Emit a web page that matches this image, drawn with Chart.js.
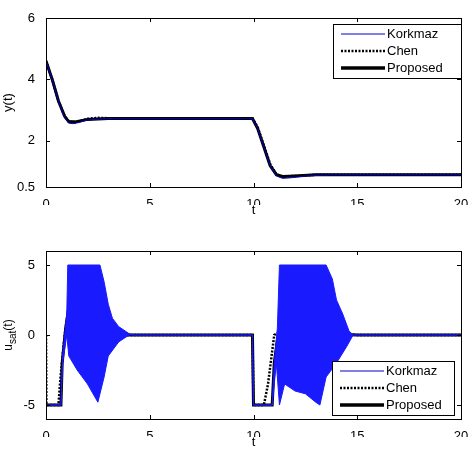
<!DOCTYPE html>
<html><head><meta charset="utf-8">
<script src="https://cdn.jsdelivr.net/npm/chart.js@4"></script>
<style>body{margin:0;background:#fff;width:473px;height:457px;position:relative;overflow:hidden}
canvas{position:absolute;left:0}</style></head><body>
<div style="position:absolute;left:0;top:0;width:473px;height:228px"><canvas id="c1"></canvas></div>
<div style="position:absolute;left:0;top:228px;width:473px;height:229px"><canvas id="c2"></canvas></div>
<script>
const xTicks=[0,5,10,15,20];
const yTicksTop=[0.5,2,4,6];
const yTicksBot=[-5,0,5];
// top plot y(t)
const yProposed=[[0,4.6],[0.3,4.0],[0.6,3.3],[0.9,2.8],[1.1,2.62],[1.4,2.62],[2,2.7],[3,2.73],[9.95,2.73],[10.2,2.4],[10.5,1.8],[10.8,1.2],[11.1,0.9],[11.4,0.84],[12,0.86],[13,0.9],[20,0.9]];
const yKorkmaz=[[0,4.6],[0.3,4.0],[0.6,3.3],[0.9,2.75],[1.1,2.58],[1.3,2.56],[1.6,2.6],[2,2.68],[3,2.73],[9.95,2.73],[10.2,2.4],[10.5,1.8],[10.8,1.2],[11.1,0.86],[11.4,0.78],[11.8,0.8],[12.5,0.86],[14,0.9],[20,0.9]];
const yChen=[[0,4.6],[0.3,4.0],[0.6,3.3],[0.9,2.8],[1.1,2.64],[1.4,2.6],[2,2.72],[2.5,2.75],[3,2.74],[9.95,2.73],[10.2,2.45],[10.5,1.85],[10.8,1.25],[11.1,0.92],[11.4,0.84],[12,0.86],[13,0.9],[20,0.9]];
// bottom plot u_sat(t)
const uProposed=[[0,-5],[0.72,-5],[0.78,-2],[0.95,0.5],[1.1,2.0],[1.3,1.7],[1.6,1.3],[2,0.7],[2.5,0.2],[3,0.05],[3.5,0],[9.95,0],[10.0,-5],[10.9,-5],[11.0,-2],[11.2,0.2],[11.7,0.4],[12.5,0.3],[13.5,0.1],[15,0],[20,0]];
const uChen=[[0,0],[0.02,-5],[0.6,-5],[0.7,-3],[0.9,0],[1.1,2.0],[1.5,2.0],[1.8,1.7],[2.2,0.8],[2.6,0.1],[3,-0.1],[3.5,0],[9.95,0],[10.0,-5],[10.5,-5],[10.7,-3.5],[11.0,0],[11.3,0.3],[12,0.35],[13,0.1],[15,0],[20,0]];
const uKorkmazUpper=[[0,-5],[0.72,-5],[0.8,-1.5],[1.0,1.5],[1.05,5],[2.6,5],[2.8,3.8],[3.0,2.2],[3.2,1.2],[3.5,0.6],[4.0,0.1],[4.2,0],[9.95,0],[10.0,-5],[10.9,-5],[11.0,-2],[11.15,0.5],[11.25,5],[13.5,5],[13.8,4],[14.0,2.5],[14.3,1.5],[14.6,0.3],[14.8,0],[20,0]];
const uKorkmazLower=[[0,-5],[0.72,-5],[0.8,-2],[1.0,0],[1.1,-1.5],[1.5,-2.5],[2.0,-3.5],[2.5,-4.8],[2.8,-3],[3.0,-1.5],[3.5,-0.5],[4.0,0],[9.95,0],[10.0,-5],[10.9,-5],[11.1,-2],[11.25,-5],[11.5,-3.5],[12,-4],[12.5,-4.2],[13,-4.8],[13.2,-5],[13.5,-3],[14,-2],[14.5,-0.8],[14.8,0],[20,0]];

const pts=a=>a.map(p=>({x:p[0],y:p[1]}));
const FONT='"Liberation Sans", Arial, sans-serif';
function deco(legendBox,ylabel,sub){
 return {id:'deco',afterDraw(ch){
  const c=ch.ctx,a=ch.chartArea;c.save();
  c.strokeStyle='#000';c.lineWidth=1;c.strokeRect(a.left+0.5,a.top+0.5,a.right-a.left,a.bottom-a.top);
  const xs=ch.scales.x,ys=ch.scales.y;
  xTicks.forEach(v=>{const px=Math.round(xs.getPixelForValue(v))+0.5;c.beginPath();c.moveTo(px,a.bottom);c.lineTo(px,a.bottom-4);c.moveTo(px,a.top);c.lineTo(px,a.top+4);c.stroke();});
  ys.ticks.forEach(t=>{const py=Math.round(ys.getPixelForValue(t.value))+0.5;c.beginPath();c.moveTo(a.left,py);c.lineTo(a.left+4,py);c.moveTo(a.right,py);c.lineTo(a.right-4,py);c.stroke();});
  // legend
  const [lx,ly,lw,lh]=legendBox;c.fillStyle='#fff';c.fillRect(lx,ly,lw,lh);c.strokeRect(lx+0.5,ly+0.5,lw,lh);
  const items=[['Korkmaz','#0000cc',1,[]],['Chen','#000',2.5,[2,1.5]],['Proposed','#000',3.5,[]]];
  c.font='13px '+FONT;c.textBaseline='middle';
  items.forEach((it,i)=>{const yy=ly+10+i*17;c.beginPath();c.strokeStyle=it[1];c.lineWidth=it[2];c.setLineDash(it[3]);c.moveTo(lx+8,yy);c.lineTo(lx+52,yy);c.stroke();c.setLineDash([]);c.fillStyle='#000';c.fillText(it[0],lx+54,yy);});
  // labels
  c.fillStyle='#000';c.font='13px '+FONT;c.textAlign='center';c.textBaseline='alphabetic';
  c.fillText('t',(a.left+a.right)/2,a.bottom+27);
  c.translate(12,(a.top+a.bottom)/2);c.rotate(-Math.PI/2);
  if(sub){c.textAlign='left';c.font='12px '+FONT;const w1=c.measureText('u').width;c.font='10px '+FONT;const w2=c.measureText('sat').width;c.font='12px '+FONT;const w3=c.measureText('(t)').width;let x0=-(w1+w2+w3)/2;c.fillText('u',x0,0);c.font='10px '+FONT;c.fillText('sat',x0+w1,4);c.font='12px '+FONT;c.fillText('(t)',x0+w1+w2,0);}
  else c.fillText(ylabel,0,0);
  c.restore();}};
}
function opts(yMin,yMax,yt,pad){
 return {responsive:true,maintainAspectRatio:false,animation:false,
  layout:{padding:pad},
  plugins:{legend:{display:false},tooltip:{enabled:false}},
  elements:{point:{radius:0},line:{tension:0}},
  scales:{
   x:{type:'linear',min:0,max:20,afterBuildTicks:s=>{s.ticks=xTicks.map(v=>({value:v}))},
      grid:{display:false},border:{display:false},ticks:{color:'#000',font:{size:13,family:FONT},padding:2,maxRotation:0},
      afterFit:s=>{s.height=18}},
   y:{type:'linear',min:yMin,max:yMax,afterBuildTicks:s=>{s.ticks=yt.map(v=>({value:v}))},
      grid:{display:false},border:{display:false},ticks:{color:'#000',font:{size:13,family:FONT},padding:3},
      afterFit:s=>{s.width=46}}
  }};
}
new Chart(document.getElementById('c1'),{type:'line',data:{datasets:[
 {data:pts(yKorkmaz),borderColor:'#0000cc',borderWidth:1},
 {data:pts(yChen),borderColor:'#000',borderWidth:2.5,borderDash:[2,1.5]},
 {data:pts(yProposed),borderColor:'#000',borderWidth:3}
]},options:opts(0.5,6,yTicksTop,{top:18,right:12,bottom:23,left:0}),plugins:[deco([333,24,128,54],'y(t)',false)]});
new Chart(document.getElementById('c2'),{type:'line',data:{datasets:[
 {data:pts(uKorkmazUpper),borderColor:'#1a1aff',borderWidth:1,backgroundColor:'#1a1aff',fill:'+1'},
 {data:pts(uKorkmazLower),borderColor:'#1a1aff',borderWidth:1},
 {data:pts(uChen),borderColor:'#000',borderWidth:2.5,borderDash:[2,1.5]},
 {data:pts(uProposed),borderColor:'#000',borderWidth:3}
]},options:opts(-6,6,yTicksBot,{top:23,right:12,bottom:20,left:0}),plugins:[deco([332,133,122,54],'',true)]});
</script></body></html>
